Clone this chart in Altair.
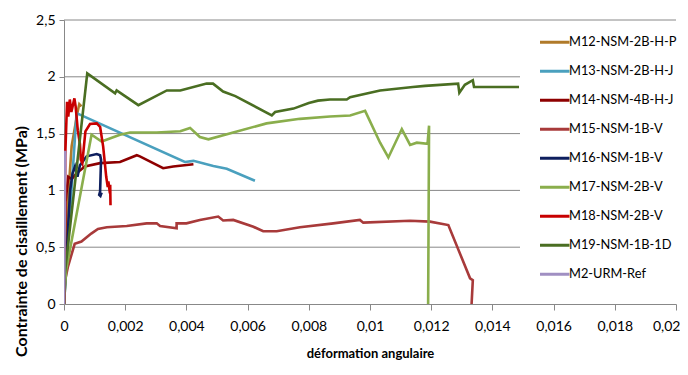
import altair as alt
import pandas as pd

series_names = ["M12-NSM-2B-H-P", "M13-NSM-2B-H-J", "M14-NSM-4B-H-J", "M15-NSM-1B-V",
                "M16-NSM-1B-V", "M17-NSM-2B-V", "M18-NSM-2B-V", "M19-NSM-1B-1D", "M2-URM-Ref"]
series_colors = ["#B07A2A", "#4AA0BE", "#8E0000", "#A83A3A", "#0E1F5E",
                 "#8AAE4C", "#C80000", "#4A6E22", "#A08FC2"]

m12_x = [0, 0.00015, 0.00025, 0.00045, 0.0005, 0.00057]
m12_y = [0, 1.0, 1.39, 1.70, 1.76, 1.74]

m13_x = [0, 0.00041, 0.00395, 0.00423, 0.00488, 0.00532, 0.00624]
m13_y = [0, 1.68, 1.25, 1.26, 1.215, 1.19, 1.085]

m14_x = [0, 0.00005, 0.00014, 0.00025, 0.00041, 0.00068, 0.00118, 0.00183, 0.00238, 0.00248,
         0.00324, 0.00357, 0.00423]
m14_y = [0, 0.9, 1.12, 1.10, 1.15, 1.21, 1.24, 1.25, 1.31, 1.30, 1.195, 1.21, 1.23]

m15_x = [0, 0.00003, 0.00013, 0.00035, 0.00057, 0.00089, 0.00111, 0.0014, 0.00205, 0.0027,
         0.00303, 0.00314, 0.00368, 0.00368, 0.004, 0.00444, 0.00504, 0.0052, 0.00553, 0.00619,
         0.00651, 0.00695, 0.00771, 0.0088, 0.00967, 0.00978, 0.01131, 0.01196, 0.01256,
         0.01327, 0.01336, 0.01332]
m15_y = [0, 0.2, 0.33, 0.53, 0.55, 0.62, 0.66, 0.675, 0.687, 0.71,
         0.71, 0.687, 0.666, 0.71, 0.71, 0.74, 0.77, 0.735, 0.74, 0.68,
         0.64, 0.64, 0.675, 0.71, 0.74, 0.716, 0.733, 0.725, 0.695,
         0.226, 0.21, 0]

m16_x = [0, 0.0002, 0.00028, 0.00036, 0.00044, 0.00052, 0.00074, 0.00107, 0.00118, 0.00121,
         0.00118, 0.00115, 0.00119, 0.00123]
m16_y = [0, 1.0, 1.15, 1.21, 1.12, 1.22, 1.30, 1.32, 1.31, 1.27, 0.99, 0.96, 0.95, 0.98]

m17_x = [0, 0.00007, 0.00062, 0.0009, 0.00123, 0.00183, 0.00216, 0.00303, 0.0038, 0.00412,
         0.00444, 0.00472, 0.00553, 0.00662, 0.00771, 0.00869, 0.00935, 0.00984, 0.01033,
         0.0106, 0.01104, 0.01131, 0.01153, 0.01188, 0.01193, 0.0119]
m17_y = [0, 0.30, 1.09, 1.49, 1.43, 1.49, 1.51, 1.51, 1.52, 1.55,
         1.47, 1.45, 1.51, 1.59, 1.63, 1.65, 1.66, 1.70, 1.42,
         1.29, 1.54, 1.40, 1.42, 1.41, 1.57, 0]

m18_x = [0, 0.00002, 0.00004, 0.0001, 0.00014, 0.00019, 0.00024, 0.00034, 0.00038, 0.00045,
         0.00052, 0.00055, 0.0006, 0.00065, 0.0007, 0.00085, 0.00107, 0.00118, 0.00128,
         0.00138, 0.00143, 0.00145, 0.0015, 0.00151, 0.00152]
m18_y = [0, 0.08, 1.3, 1.78, 1.65, 1.80, 1.69, 1.81, 1.74, 1.53,
         1.41, 1.27, 1.24, 1.385, 1.52, 1.585, 1.59, 1.56, 1.385,
         1.12, 1.03, 1.08, 0.975, 1.05, 0.87]

m19_x = [0, 0.00002, 0.00076, 0.00167, 0.00172, 0.00243, 0.00336, 0.0038, 0.00466, 0.00487,
         0.0052, 0.0056, 0.00679, 0.0069, 0.0075, 0.008, 0.0083, 0.00869, 0.00924, 0.00935,
         0.01033, 0.0114, 0.0118, 0.01288, 0.01292, 0.0131, 0.01336, 0.0134, 0.01487]
m19_y = [0, 0.25, 2.03, 1.855, 1.88, 1.75, 1.88, 1.88, 1.94, 1.94,
         1.87, 1.83, 1.66, 1.69, 1.72, 1.77, 1.79, 1.80, 1.80, 1.82,
         1.88, 1.91, 1.92, 1.94, 1.86, 1.93, 1.97, 1.91, 1.91]

m2_x = [0, 0.00002, 0.00004]
m2_y = [0, 0.6, 1.35]

all_x = [m12_x, m13_x, m14_x, m15_x, m16_x, m17_x, m18_x, m19_x, m2_x]
all_y = [m12_y, m13_y, m14_y, m15_y, m16_y, m17_y, m18_y, m19_y, m2_y]

rows = []
for name, xs, ys in zip(series_names, all_x, all_y):
    for i, (xv, yv) in enumerate(zip(xs, ys)):
        rows.append({"serie": name, "i": i, "x": xv, "y": yv})
df = pd.DataFrame(rows)

x_ticks = [0, 0.002, 0.004, 0.006, 0.008, 0.01, 0.012, 0.014, 0.016, 0.018, 0.02]
y_ticks = [0, 0.5, 1, 1.5, 2, 2.5]
grid_inner = [0.5, 1, 1.5, 2]   # gridlines interrupted by the legend box
grid_top = [2.5]                # top gridline, full width

FONT = "Lato"
GRAY = "#888888"

x_enc = alt.X("x:Q",
              scale=alt.Scale(domain=[0, 0.02], nice=False, zero=False),
              axis=alt.Axis(values=x_ticks, grid=False,
                            labelExpr="replace(format(datum.value, '.3~f'), '.', ',')",
                            title="déformation angulaire",
                            titleFont=FONT, titleFontSize=13, titleFontWeight="bold",
                            titleColor="#000000", titleBaseline="top", titleY=43,
                            labelFont=FONT, labelFontSize=14, labelColor="#000000",
                            labelPadding=9, tickSize=6, tickColor=GRAY, domainColor=GRAY,
                            labelFlush=True, labelFlushOffset=4, labelOverlap=False))
y_enc = alt.Y("y:Q",
              scale=alt.Scale(domain=[0, 2.5], nice=False),
              axis=alt.Axis(values=y_ticks, grid=False,
                            labelExpr="replace(format(datum.value, '.1~f'), '.', ',')",
                            title="Contrainte de cisaillement (MPa)",
                            titleFont=FONT, titleFontSize=16, titleFontWeight="bold",
                            titleColor="#000000", titleAngle=270, titleBaseline="alphabetic",
                            titleX=-38, titleY=221, titleAlign="center",
                            labelFont=FONT, labelFontSize=14, labelColor="#000000",
                            labelPadding=4, tickSize=5, tickColor=GRAY, domainColor=GRAY,
                            labelFlush=False, labelOverlap=False))

grid1 = alt.Chart(pd.DataFrame({"y": grid_inner})).mark_rule(color=GRAY, strokeWidth=1).encode(
    y=alt.Y("y:Q"), x=alt.value(0), x2=alt.value(456))
grid2 = alt.Chart(pd.DataFrame({"y": grid_top})).mark_rule(color=GRAY, strokeWidth=1).encode(
    y=alt.Y("y:Q"), x=alt.value(0), x2=alt.value(612))

lines = alt.Chart(df).mark_line(strokeWidth=2.6, clip=True).encode(
    x=x_enc,
    y=y_enc,
    color=alt.Color("serie:N",
                    scale=alt.Scale(domain=series_names, range=series_colors),
                    legend=alt.Legend(title=None, orient="none", legendX=476, legendY=9,
                                      padding=0,
                                      symbolType="M-1.186,0H1.186", symbolSize=640,
                                      symbolStrokeWidth=3,
                                      clipHeight=26.3, rowPadding=2,
                                      labelFont=FONT, labelFontSize=12.8, labelColor="#000000",
                                      labelOffset=0)),
    order="i:Q",
)

chart = alt.layer(grid1, grid2, lines).properties(
    width=612, height=284,
    autosize=alt.AutoSizeParams(type="none"),
    padding={"left": 56, "top": 12, "right": 4, "bottom": 60},
).configure_view(stroke=None)

chart.save("out.html", embed_options={"renderer": "svg", "actions": False})
